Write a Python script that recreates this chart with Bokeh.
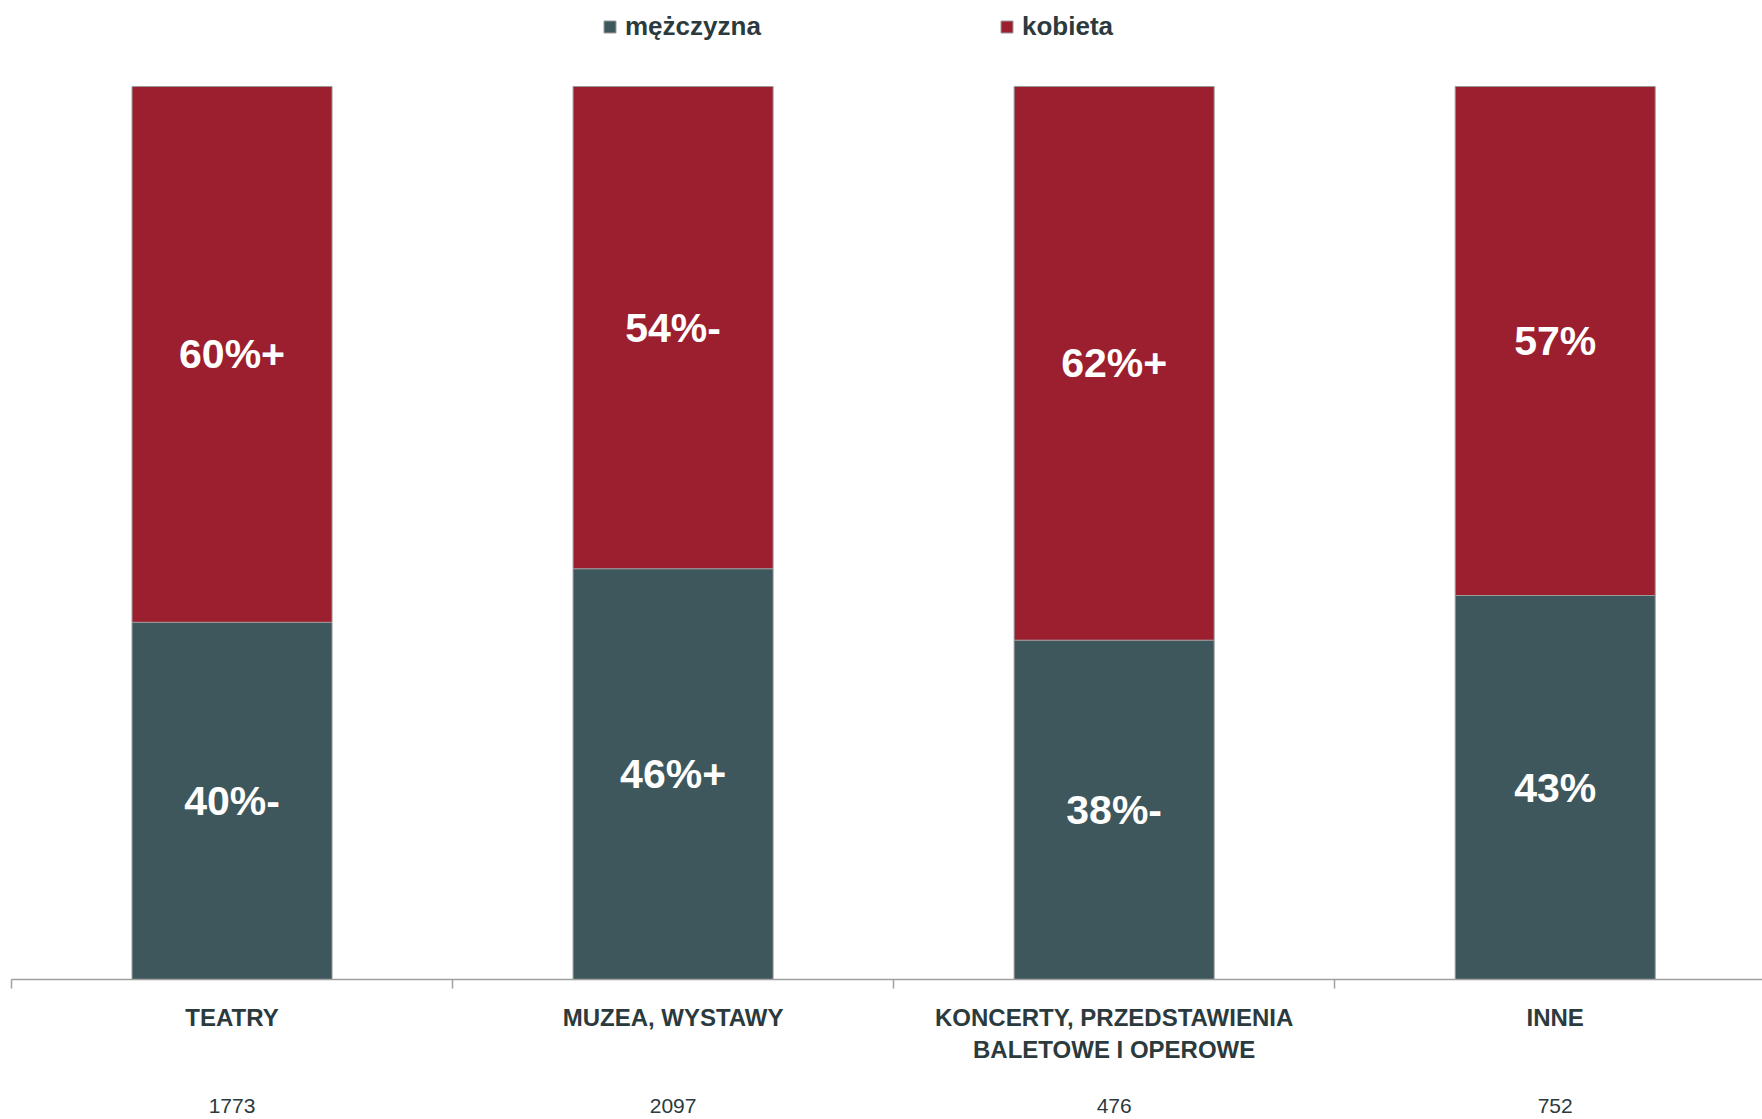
from bokeh.plotting import figure
from bokeh.models import ColumnDataSource, Range1d, FixedTicker, LinearAxis, Legend, LegendItem
from bokeh.core.properties import value
from bokeh.embed import file_html
from bokeh.resources import INLINE

categories = ["TEATRY", "MUZEA, WYSTAWY", "KONCERTY, PRZEDSTAWIENIA\nBALETOWE I OPEROWE", "INNE"]
counts = ["1773", "2097", "476", "752"]
men = [40, 46, 38, 43]
women = [60, 54, 62, 57]
men_labels = ["40%-", "46%+", "38%-", "43%"]
women_labels = ["60%+", "54%-", "62%+", "57%"]
series_names = ["mężczyzna", "kobieta"]
colors = ["#3E575C", "#9C1F2F"]

FONT = "Liberation Sans"
TXT = "#2B3A3D"

x = [i + 0.5 for i in range(len(categories))]
total = [m + w for m, w in zip(men, women)]
src = ColumnDataSource(dict(
    x=x, men=men, women=women, total=total,
    men_mid=[m / 2 for m in men],
    women_mid=[m + w / 2 for m, w in zip(men, women)],
    ml=men_labels, wl=women_labels,
))

p = figure(frame_width=1751, frame_height=979, output_backend="svg", toolbar_location=None,
           x_range=Range1d(0, 3.97), y_range=Range1d(0, 109.63),
           min_border_left=11, min_border_right=0, min_border_top=0, min_border_bottom=0)
p.outline_line_color = None
p.xgrid.visible = False
p.ygrid.visible = False
p.yaxis.visible = False

bw = 0.4535
r1 = p.vbar(x="x", bottom=0, top="men", width=bw, source=src, fill_color=colors[0],
            line_color="#9a9a9a", line_width=1)
r2 = p.vbar(x="x", bottom="men", top="total", width=bw, source=src, fill_color=colors[1],
            line_color="#9a9a9a", line_width=1)

p.text(x="x", y="men_mid", text="ml", source=src, text_color="white", text_align="center",
       text_baseline="middle", text_font=value(FONT), text_font_style="bold", text_font_size="41px")
p.text(x="x", y="women_mid", text="wl", source=src, text_color="white", text_align="center",
       text_baseline="middle", text_font=value(FONT), text_font_style="bold", text_font_size="41px")

ticker = FixedTicker(ticks=x, minor_ticks=[0, 1, 2, 3, 4])
ax = p.xaxis[0]
ax.ticker = ticker
ax.major_label_overrides = {xx: c for xx, c in zip(x, categories)}
ax.major_tick_line_color = None
ax.minor_tick_in = 0
ax.minor_tick_out = 9
ax.minor_tick_line_color = "#a0a0a0"
ax.minor_tick_line_width = 1.5
ax.axis_line_color = "#a0a0a0"
ax.axis_line_width = 1.5
ax.major_label_text_font = FONT
ax.major_label_text_font_style = "bold"
ax.major_label_text_font_size = "24px"
ax.major_label_text_color = TXT
ax.major_label_standoff = 15

ax2 = LinearAxis(ticker=FixedTicker(ticks=x, minor_ticks=[]))
ax2.major_label_overrides = {xx: c for xx, c in zip(x, counts)}
ax2.axis_line_color = None
ax2.major_tick_line_color = None
ax2.minor_tick_line_color = None
ax2.major_label_text_font = FONT
ax2.major_label_text_font_size = "21px"
ax2.major_label_text_color = TXT
ax2.major_label_standoff = 27
p.add_layout(ax2, "below")

def mk_legend(label, rend, loc):
    lg = Legend(items=[LegendItem(label=label, renderers=[rend])], location=loc,
                orientation="horizontal", padding=0, margin=0, border_line_alpha=0,
                background_fill_alpha=0, glyph_width=15, glyph_height=15, label_standoff=8,
                label_text_font=FONT, label_text_font_style="bold", label_text_font_size="26px",
                label_text_color=TXT, label_height=15)
    p.add_layout(lg)

mk_legend(series_names[0], r1, (591, 937))
mk_legend(series_names[1], r2, (988, 937))

open("out.html", "w").write(file_html(p, INLINE))
